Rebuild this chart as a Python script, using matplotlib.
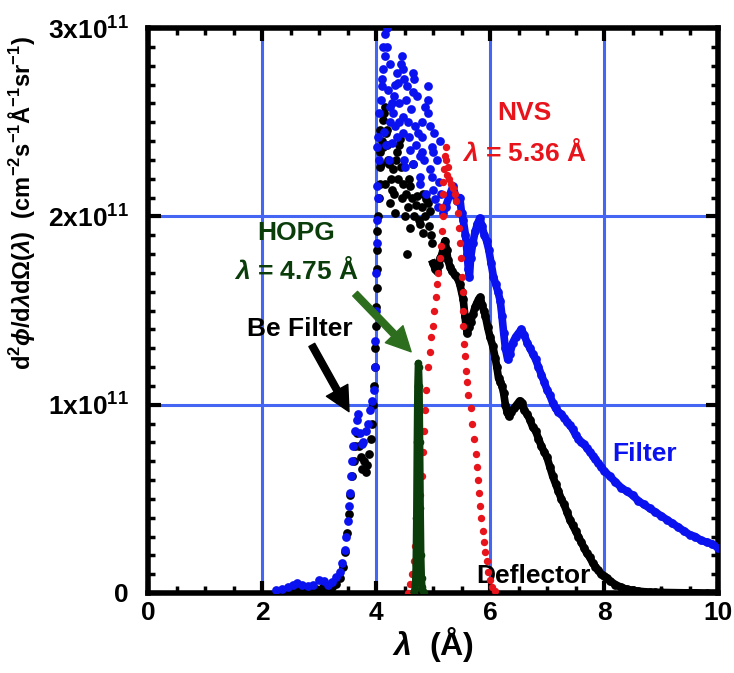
import matplotlib
matplotlib.use("Agg")
import matplotlib.pyplot as plt
from matplotlib.ticker import MultipleLocator, FixedLocator, FixedFormatter

plt.rcParams['font.family'] = ['Liberation Sans', 'DejaVu Sans']
plt.rcParams['font.weight'] = 'bold'
plt.rcParams['axes.labelweight'] = 'bold'
plt.rcParams['mathtext.fontset'] = 'custom'
plt.rcParams['mathtext.rm'] = 'Liberation Sans:bold'
plt.rcParams['mathtext.bf'] = 'Liberation Sans:bold'
plt.rcParams['mathtext.it'] = 'Liberation Sans:italic:bold'
plt.rcParams['mathtext.default'] = 'bf'

# ---------------- data (flux in units of 1e11) ----------------
# Filter (blue): smooth low-wavelength rise
filter_rise_x = [2.25, 2.35, 2.45, 2.55, 2.62, 2.70, 2.80, 2.90, 3.00, 3.08, 3.15, 3.22, 3.30, 3.36,
                 3.41, 3.45, 3.48, 3.50, 3.52, 3.54, 3.56, 3.58, 3.60, 3.63, 3.66, 3.69, 3.72, 3.75,
                 3.78, 3.82, 3.86, 3.90, 3.93, 3.96, 3.98, 3.99, 4.00, 4.00, 4.01, 4.02, 4.03]
filter_rise_y = [0.015, 0.02, 0.03, 0.045, 0.055, 0.04, 0.035, 0.04, 0.07, 0.065, 0.045, 0.06, 0.085, 0.11,
                 0.16, 0.23, 0.30, 0.38, 0.46, 0.53, 0.62, 0.70, 0.78, 0.86, 0.92, 0.95, 0.85, 0.79,
                 0.80, 0.86, 0.90, 0.97, 1.02, 1.08, 1.20, 1.34, 1.50, 1.70, 1.86, 1.98, 2.10]
# Filter (blue): scattered cloud around the maximum
filter_cloud_x = [4.02, 4.02, 4.04, 4.10, 4.12, 4.12, 4.16, 4.19, 4.19, 4.16, 4.25, 4.46, 4.44, 4.47,
                  4.37, 4.39, 4.49, 4.54, 4.65, 4.67, 4.65, 4.72, 4.91, 4.91, 4.91, 4.95, 4.81, 4.74,
                  4.81, 4.61, 4.47, 4.47, 4.58, 4.30, 4.25, 4.32, 4.10, 4.28, 4.25, 4.37, 4.28, 4.98,
                  5.00, 4.81, 4.77, 4.65, 4.49, 4.23, 4.51, 4.98, 4.77, 4.77, 4.88, 5.00, 5.04, 5.09,
                  5.18, 5.14, 4.06, 4.08, 4.14, 4.21, 4.34, 4.41, 4.56, 4.70, 4.85, 4.95, 5.02, 5.07,
                  4.33, 4.52, 4.60, 4.86, 4.18, 4.05, 4.40, 4.69, 5.10, 5.12]
filter_cloud_y = [2.16, 2.37, 2.42, 2.69, 2.78, 2.90, 2.97, 3.00, 2.90, 2.85, 2.81, 2.85, 2.81, 2.78,
                  2.76, 2.71, 2.73, 2.69, 2.76, 2.73, 2.66, 2.64, 2.69, 2.62, 2.55, 2.48, 2.50, 2.44,
                  2.42, 2.57, 2.53, 2.44, 2.42, 2.55, 2.58, 2.64, 2.73, 2.60, 2.50, 2.42, 2.39, 2.37,
                  2.34, 2.34, 2.32, 2.28, 2.30, 2.30, 2.26, 2.21, 2.21, 2.17, 2.12, 2.14, 2.09, 2.05,
                  2.02, 2.12, 2.55, 2.62, 2.45, 2.67, 2.48, 2.60, 2.50, 2.38, 2.30, 2.25, 2.44, 2.30,
                  2.70, 2.62, 2.35, 2.58, 2.38, 2.30, 2.50, 2.48, 2.18, 2.40]
# Filter (blue): smooth long-wavelength tail
filter_tail_x = [5.22, 5.30, 5.35, 5.42, 5.47, 5.50, 5.53, 5.57, 5.60, 5.62, 5.64, 5.66, 5.70, 5.74,
                 5.78, 5.82, 5.86, 5.90, 5.94, 5.98, 6.02, 6.06, 6.10, 6.14, 6.18, 6.21, 6.24, 6.27,
                 6.31, 6.35, 6.40, 6.45, 6.50, 6.55, 6.60, 6.65, 6.70, 6.75, 6.80, 6.85, 6.90, 6.95,
                 7.00, 7.05, 7.10, 7.15, 7.20, 7.25, 7.30, 7.35, 7.40, 7.45, 7.50, 7.55, 7.60, 7.65,
                 7.70, 7.75, 7.80, 7.85, 7.90, 7.95, 8.00, 8.10, 8.20, 8.30, 8.40, 8.50, 8.60, 8.70,
                 8.80, 8.90, 9.00, 9.10, 9.20, 9.30, 9.40, 9.50, 9.60, 9.70, 9.80, 9.90, 10.00]
filter_tail_y = [2.05, 2.12, 2.16, 2.08, 2.10, 2.02, 1.98, 1.90, 1.80, 1.72, 1.68, 1.78, 1.86, 1.92,
                 1.96, 1.99, 1.95, 1.90, 1.87, 1.82, 1.75, 1.68, 1.64, 1.60, 1.55, 1.47, 1.38, 1.30,
                 1.24, 1.27, 1.33, 1.36, 1.38, 1.40, 1.37, 1.33, 1.30, 1.27, 1.24, 1.20, 1.16, 1.12,
                 1.08, 1.05, 1.01, 0.98, 0.96, 0.95, 0.93, 0.91, 0.89, 0.87, 0.84, 0.82, 0.80, 0.79,
                 0.77, 0.75, 0.73, 0.71, 0.69, 0.67, 0.65, 0.62, 0.59, 0.56, 0.54, 0.52, 0.49, 0.47,
                 0.45, 0.43, 0.41, 0.39, 0.37, 0.35, 0.33, 0.31, 0.30, 0.28, 0.27, 0.26, 0.24]

# Deflector (black)
defl_rise_x = [2.30, 2.45, 2.60, 2.72, 2.85, 2.95, 3.07, 3.15, 3.22, 3.30, 3.36, 3.42, 3.46, 3.49,
               3.52, 3.55, 3.58, 3.61, 3.64, 3.67, 3.70, 3.73, 3.76, 3.79, 3.82, 3.85, 3.88, 3.91,
               3.93, 3.95, 3.97, 3.98, 3.99, 4.00, 4.00, 4.01, 4.01, 4.02, 4.02, 4.03]
defl_rise_y = [0.005, 0.01, 0.02, 0.005, 0.01, 0.02, 0.03, 0.02, 0.03, 0.05, 0.08, 0.14, 0.22, 0.32,
               0.42, 0.52, 0.62, 0.70, 0.78, 0.85, 0.78, 0.72, 0.66, 0.70, 0.64, 0.68, 0.74, 0.82,
               0.90, 1.00, 1.10, 1.20, 1.30, 1.42, 1.52, 1.62, 1.72, 1.82, 1.92, 2.00]
defl_cloud_x = [4.05, 4.07, 4.07, 4.07, 4.07, 4.10, 4.12, 4.12, 4.14, 4.16, 4.16, 4.18, 4.19, 4.21,
                4.23, 4.25, 4.27, 4.28, 4.30, 4.33, 4.35, 4.37, 4.40, 4.42, 4.44, 4.45, 4.47, 4.50,
                4.52, 4.54, 4.56, 4.58, 4.60, 4.60, 4.63, 4.65, 4.67, 4.70, 4.72, 4.75, 4.77, 4.80,
                4.83, 4.83, 4.86, 4.88, 4.91, 4.93, 4.94, 4.96, 4.98, 4.09, 4.14, 4.20, 4.31, 4.38]
defl_cloud_y = [2.10, 2.46, 2.34, 2.26, 2.17, 2.40, 2.51, 2.37, 2.55, 2.58, 2.17, 2.44, 2.46, 2.30,
                2.28, 2.07, 2.20, 2.14, 2.25, 2.02, 2.30, 2.34, 2.38, 2.41, 2.26, 2.10, 2.17, 2.00,
                2.12, 1.80, 2.05, 2.20, 2.16, 1.94, 2.10, 2.28, 2.00, 2.06, 2.11, 1.98, 1.96, 2.05,
                2.12, 1.91, 2.00, 2.09, 2.07, 1.95, 2.03, 1.90, 1.86, 2.28, 2.45, 2.38, 2.12, 2.20]
defl_tail_x = [5.00, 5.04, 5.07, 5.10, 5.13, 5.16, 5.19, 5.21, 5.24, 5.26, 5.30, 5.33, 5.38, 5.42,
               5.47, 5.50, 5.53, 5.56, 5.58, 5.60, 5.63, 5.66, 5.70, 5.74, 5.77, 5.80, 5.83, 5.86,
               5.89, 5.92, 5.96, 6.00, 6.05, 6.09, 6.12, 6.15, 6.18, 6.21, 6.24, 6.27, 6.30, 6.33,
               6.37, 6.42, 6.47, 6.52, 6.56, 6.60, 6.65, 6.70, 6.75, 6.80, 6.85, 6.90, 6.95, 7.00,
               7.05, 7.10, 7.15, 7.20, 7.25, 7.30, 7.35, 7.40, 7.45, 7.50, 7.55, 7.60, 7.65, 7.70,
               7.75, 7.80, 7.85, 7.90, 7.95, 8.00, 8.05, 8.10, 8.20, 8.30, 8.40, 8.50, 8.60, 8.70,
               8.80, 8.90, 9.00, 9.20, 9.40, 9.60, 9.80, 10.00]
defl_tail_y = [1.75, 1.72, 1.71, 1.74, 1.78, 1.80, 1.85, 1.87, 1.82, 1.77, 1.73, 1.71, 1.69, 1.68,
               1.64, 1.60, 1.56, 1.47, 1.42, 1.38, 1.41, 1.44, 1.48, 1.52, 1.54, 1.56, 1.57, 1.53,
               1.50, 1.47, 1.41, 1.36, 1.31, 1.25, 1.20, 1.14, 1.12, 1.10, 1.06, 1.00, 0.96, 0.94,
               0.96, 0.98, 1.00, 1.02, 1.01, 0.97, 0.95, 0.92, 0.88, 0.86, 0.82, 0.78, 0.75, 0.72,
               0.67, 0.62, 0.58, 0.54, 0.50, 0.47, 0.43, 0.39, 0.36, 0.33, 0.30, 0.27, 0.24, 0.21,
               0.19, 0.16, 0.14, 0.12, 0.10, 0.09, 0.08, 0.065, 0.045, 0.03, 0.02, 0.015, 0.01, 0.007,
               0.005, 0.004, 0.003, 0.002, 0.001, 0.001, 0.0, 0.0]

# NVS (red), lambda = 5.36 A
nvs_x = [4.56, 4.60, 4.63, 4.66, 4.69, 4.72, 4.75, 4.78, 4.80, 4.82, 4.84, 4.86, 4.88, 4.91,
         4.94, 4.97, 5.00, 5.02, 5.05, 5.07, 5.09, 5.12, 5.14, 5.16, 5.17, 5.16, 5.18, 5.18,
         5.20, 5.21, 5.22, 5.23, 5.24, 5.26, 5.28, 5.31, 5.35, 5.38, 5.41, 5.43, 5.45, 5.47,
         5.49, 5.51, 5.52, 5.53, 5.53, 5.54, 5.56, 5.58, 5.60, 5.62, 5.66, 5.69, 5.72, 5.75,
         5.77, 5.79, 5.81, 5.83, 5.85, 5.87, 5.89, 5.91, 5.94, 5.97, 6.00, 6.04, 6.08]
nvs_y = [0.0, 0.05, 0.10, 0.17, 0.25, 0.33, 0.42, 0.52, 0.62, 0.75, 0.86, 0.97, 1.08, 1.20,
         1.28, 1.36, 1.42, 1.50, 1.57, 1.64, 1.70, 1.78, 1.84, 1.92, 2.00, 2.05, 2.12, 2.18,
         2.25, 2.32, 2.37, 2.30, 2.22, 2.26, 2.20, 2.17, 2.15, 2.12, 2.08, 2.02, 1.94, 1.86,
         1.78, 1.68, 1.60, 1.50, 1.42, 1.32, 1.26, 1.18, 1.12, 1.05, 0.98, 0.90, 0.82, 0.74,
         0.67, 0.60, 0.53, 0.46, 0.40, 0.33, 0.27, 0.22, 0.17, 0.11, 0.07, 0.03, 0.01]

# HOPG (dark green), lambda = 4.75 A
hopg_x = [4.66, 4.68, 4.69, 4.70, 4.71, 4.72, 4.73, 4.74, 4.75, 4.76, 4.77, 4.78, 4.79, 4.80,
          4.81, 4.82, 4.84]
hopg_y = [0.0, 0.02, 0.05, 0.15, 0.40, 0.80, 1.10, 1.22, 1.20, 1.10, 0.80, 0.45, 0.20, 0.08,
          0.03, 0.01, 0.0]

x_ticks = [0, 2, 4, 6, 8, 10]
x_ticklabels = ['0', '2', '4', '6', '8', '10']
y_ticks = [0, 1, 2, 3]
y_ticklabels = ['0', r'1x10$^{11}$', r'2x10$^{11}$', r'3x10$^{11}$']

BLUE = '#0a12f0'
BLACK = '#000000'
RED = '#e8141c'
GREEN = '#0b3d0b'
GRID = '#4466f2'

fig = plt.figure(figsize=(7.34, 6.73), dpi=100)
ax = fig.add_axes([148/734, 1 - 593/673, 570/734, 565/673])
ax.set_xlim(0, 10)
ax.set_ylim(0, 3)

for gx in x_ticks[1:-1]:
    ax.axvline(gx, color=GRID, lw=2.2, zorder=0)
for gy in y_ticks[1:-1]:
    ax.axhline(gy, color=GRID, lw=2.2, zorder=0)

ms = 6.3
# Deflector (black)
ax.plot(defl_rise_x, defl_rise_y, 'o', color=BLACK, ms=ms, mew=0, zorder=2)
ax.plot(defl_cloud_x, defl_cloud_y, 'o', color=BLACK, ms=ms, mew=0, zorder=2)
ax.plot(defl_tail_x, defl_tail_y, 'o-', color=BLACK, ms=ms, mew=0, lw=5.5, zorder=2)
# Filter (blue)
ax.plot(filter_rise_x, filter_rise_y, 'o', color=BLUE, ms=ms, mew=0, zorder=3)
ax.plot(filter_cloud_x, filter_cloud_y, 'o', color=BLUE, ms=ms, mew=0, zorder=3)
ax.plot(filter_tail_x, filter_tail_y, 'o-', color=BLUE, ms=ms, mew=0, lw=5.5, zorder=3)
# NVS (red)
ax.plot(nvs_x, nvs_y, 'o', color=RED, ms=5.3, mew=0, zorder=4)
# HOPG (green)
ax.plot(hopg_x, hopg_y, 'o-', color=GREEN, ms=5.5, mew=0, lw=5, zorder=5)

# ticks
ax.xaxis.set_major_locator(FixedLocator(x_ticks))
ax.xaxis.set_major_formatter(FixedFormatter(x_ticklabels))
ax.xaxis.set_minor_locator(MultipleLocator(0.5))
ax.yaxis.set_major_locator(FixedLocator(y_ticks))
ax.yaxis.set_major_formatter(FixedFormatter(y_ticklabels))
ax.yaxis.set_minor_locator(MultipleLocator(0.1))
ax.tick_params(which='both', direction='in', top=True, right=True, colors='black')
ax.tick_params(which='major', length=9, width=3)
ax.tick_params(which='minor', length=5, width=2.5)
ax.tick_params(axis='x', which='major', labelsize=19, pad=6)
ax.tick_params(axis='y', which='major', labelsize=19, pad=14)
for s in ax.spines.values():
    s.set_linewidth(4)

ax.set_xlabel(r'$\mathit{\lambda}$  (Å)', fontsize=23, labelpad=0)
ax.set_ylabel(r'd$^{2}$$\mathit{\phi}$/d$\mathit{\lambda}$d$\mathit{Ω}$($\mathit{\lambda}$)  '
              r'(cm$^{-2}$s$^{-1}$Å$^{-1}$sr$^{-1}$)', fontsize=17)
ax.yaxis.set_label_coords(-0.195, 0.69)

# annotations
ax.text(6.6, 2.55, 'NVS', color=RED, fontsize=19, ha='center', va='center')
ax.text(6.6, 2.34, r'$\mathit{\lambda}$ = 5.36 Å', color=RED, fontsize=19, ha='center', va='center')
ax.text(2.6, 1.91, 'HOPG', color=GREEN, fontsize=19, ha='center', va='center')
ax.text(2.6, 1.71, r'$\mathit{\lambda}$ = 4.75 Å', color=GREEN, fontsize=19, ha='center', va='center')
ax.text(2.67, 1.40, 'Be Filter', color=BLACK, fontsize=19, ha='center', va='center')
ax.text(8.72, 0.74, 'Filter', color=BLUE, fontsize=19, ha='center', va='center')
ax.text(6.77, 0.09, 'Deflector', color=BLACK, fontsize=19, ha='center', va='center')

ax.annotate('', xy=(3.55, 0.95), xytext=(2.85, 1.33),
            arrowprops=dict(arrowstyle='simple,head_width=1.1,head_length=1.1,tail_width=0.3',
                            mutation_scale=16, fc='black', ec='black'), zorder=6)
ax.annotate('', xy=(4.65, 1.27), xytext=(3.6, 1.60),
            arrowprops=dict(arrowstyle='simple,head_width=1.1,head_length=1.1,tail_width=0.3',
                            mutation_scale=16, fc='#2d6e1e', ec='#2d6e1e'), zorder=6)

fig.savefig('out.png', dpi=100)
